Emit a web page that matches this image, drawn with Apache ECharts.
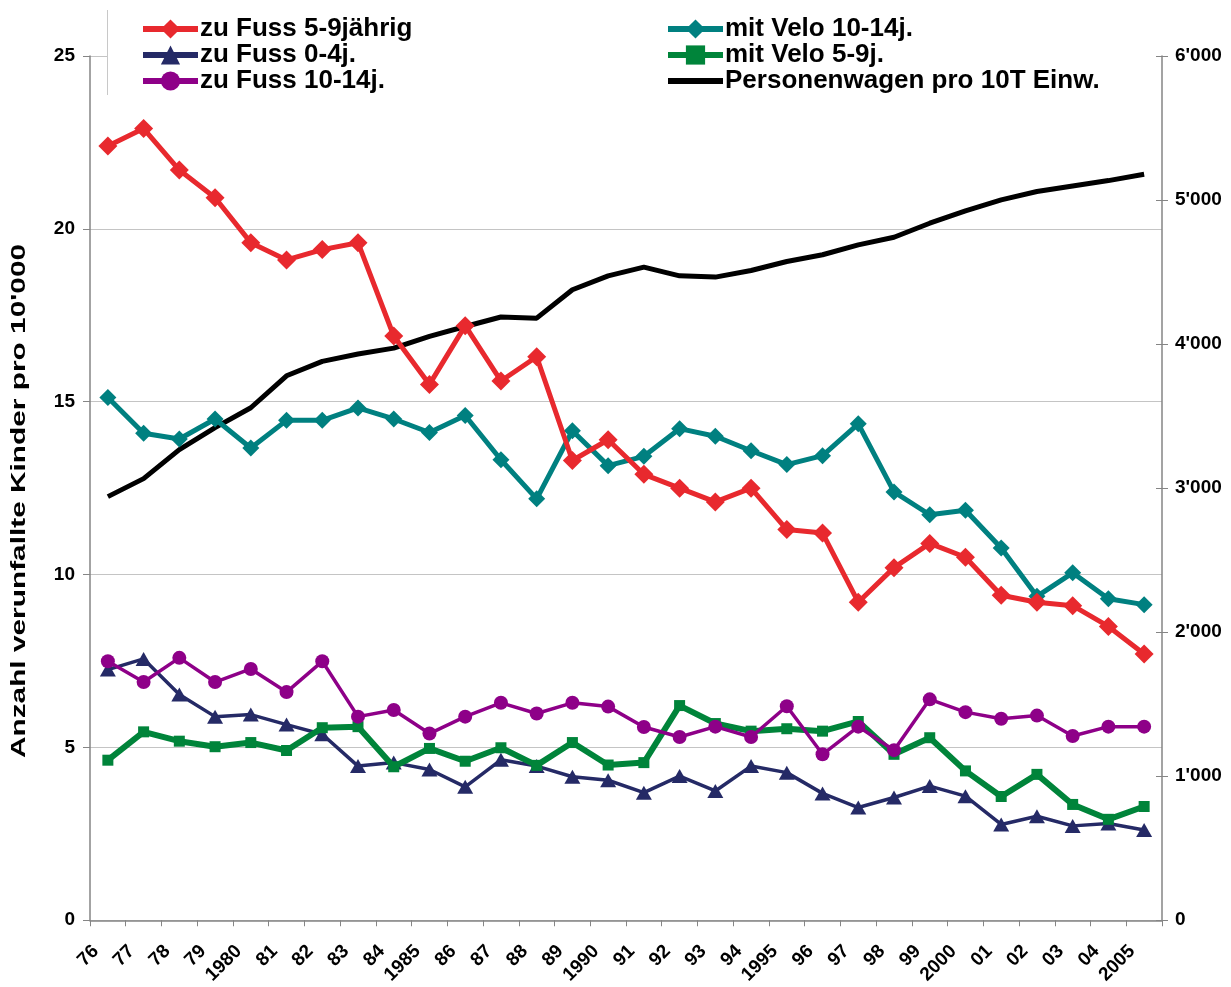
<!DOCTYPE html>
<html>
<head>
<meta charset="utf-8">
<script src="https://cdn.jsdelivr.net/npm/echarts@6/dist/echarts.min.js"></script>
<style>
html,body{margin:0;padding:0;background:#fff;}
#chart{width:1231px;height:987px;}
</style>
</head>
<body>
<div id="chart"></div>
<script>
const years = ['76','77','78','79','1980','81','82','83','84','1985','86','87','88','89','1990','91','92','93','94','1995','96','97','98','99','2000','01','02','03','04','2005'];
const fuss59 = [22.4, 22.9, 21.7, 20.9, 19.6, 19.1, 19.4, 19.6, 16.9, 15.5, 17.2, 15.6, 16.3, 13.3, 13.9, 12.9, 12.5, 12.1, 12.5, 11.3, 11.2, 9.2, 10.2, 10.9, 10.5, 9.4, 9.2, 9.1, 8.5, 7.7];
const fuss04 = [7.25, 7.56, 6.53, 5.89, 5.95, 5.66, 5.38, 4.46, 4.56, 4.36, 3.86, 4.64, 4.46, 4.15, 4.05, 3.69, 4.17, 3.74, 4.46, 4.27, 3.67, 3.26, 3.55, 3.88, 3.59, 2.77, 3.01, 2.73, 2.8, 2.61];
const fuss1014 = [7.49, 6.89, 7.59, 6.89, 7.27, 6.6, 7.49, 5.89, 6.08, 5.4, 5.89, 6.29, 5.98, 6.29, 6.18, 5.59, 5.3, 5.6, 5.3, 6.19, 4.8, 5.6, 4.92, 6.39, 6.02, 5.83, 5.92, 5.33, 5.6, 5.6];
const velo1014 = [15.12, 14.09, 13.92, 14.5, 13.66, 14.46, 14.46, 14.82, 14.5, 14.11, 14.6, 13.32, 12.19, 14.16, 13.15, 13.42, 14.22, 14.0, 13.58, 13.18, 13.44, 14.36, 12.39, 11.73, 11.86, 10.77, 9.37, 10.05, 9.3, 9.13];
const velo59 = [4.63, 5.45, 5.18, 5.02, 5.14, 4.91, 5.57, 5.6, 4.44, 4.97, 4.6, 4.99, 4.48, 5.14, 4.49, 4.56, 6.21, 5.69, 5.47, 5.54, 5.47, 5.75, 4.8, 5.28, 4.32, 3.58, 4.22, 3.35, 2.92, 3.29];
const pw = [2941, 3066, 3267, 3420, 3558, 3780, 3880, 3931, 3972, 4053, 4122, 4188, 4180, 4377, 4474, 4534, 4474, 4465, 4511, 4573, 4620, 4689, 4742, 4839, 4925, 5001, 5059, 5098, 5135, 5179];
const leftTicks = {min: 0, max: 25, interval: 5};
const rightTicks = {min: 0, max: 6000, interval: 1000};
const yTitle = "Anzahl verunfallte Kinder pro 10'000";

const FONT = "'Liberation Sans', Arial, sans-serif";
const names = ['zu Fuss 5-9jährig', 'zu Fuss 0-4j.', 'zu Fuss 10-14j.', 'mit Velo 10-14j.', 'mit Velo 5-9j.', 'Personenwagen pro 10T Einw.'];

const chart = echarts.init(document.getElementById('chart'), null, {renderer: 'canvas'});
const axisGray = '#858585';
const legendCommon = {
  orient: 'vertical', top: 16, padding: 0, itemWidth: 55, itemHeight: 24, itemGap: 0,
  textStyle: {fontFamily: FONT, fontWeight: 'bold', fontSize: 26, color: '#000', lineHeight: 25, padding: [0,0,0,-3]},
  lineStyle: {width: 6},
  selectedMode: false, z: 5
};
function fmtThousands(v) {
  const s = String(Math.round(v));
  return s.replace(/\B(?=(\d{3})+(?!\d))/g, "'");
}
chart.setOption({
  animation: false,
  backgroundColor: '#fff',
  grid: {left: 90, right: 69, top: 56, bottom: 66, containLabel: false},
  graphic: [
    {type: 'rect', shape: {x: 108, y: 8, width: 1048, height: 88}, style: {fill: '#fff'}, z: 1},
    {type: 'line', shape: {x1: 107.5, y1: 10, x2: 107.5, y2: 95}, style: {stroke: '#c8c8c8', lineWidth: 1}, z: 1},
    {type: 'text', x: 19, y: 501, rotation: Math.PI / 2, scaleX: 1.42, z: 5,
     style: {text: yTitle, font: "bold 21px 'Liberation Sans', Arial, sans-serif", fill: '#000', align: 'center', verticalAlign: 'middle'}}
  ],
  legend: [
    Object.assign({}, legendCommon, {left: 140, data: names.slice(0, 3)}),
    Object.assign({}, legendCommon, {left: 665, data: [names[3], names[4], {name: names[5], itemStyle: {opacity: 0}}]})
  ],
  xAxis: {
    type: 'category', data: years, boundaryGap: true,
    axisLine: {lineStyle: {color: axisGray, width: 1.5}},
    axisTick: {show: true, length: 6, lineStyle: {color: axisGray}},
    axisLabel: {interval: 0, rotate: 45, fontFamily: FONT, fontWeight: 'bold', fontSize: 19, color: '#000', margin: 16, padding: [0, 17, 0, 0]},
    splitLine: {show: false}
  },
  yAxis: [
    {
      type: 'value', min: leftTicks.min, max: leftTicks.max, interval: leftTicks.interval, position: 'left',
      axisLine: {show: true, lineStyle: {color: axisGray, width: 1.5}},
      axisTick: {show: true, length: 7, lineStyle: {color: axisGray}},
      axisLabel: {fontFamily: FONT, fontWeight: 'bold', fontSize: 19, color: '#000', margin: 15},
      splitLine: {show: true, lineStyle: {color: '#c4c4c4', width: 1}}
    },
    {
      type: 'value', min: rightTicks.min, max: rightTicks.max, interval: rightTicks.interval, position: 'right',
      axisLine: {show: true, lineStyle: {color: axisGray, width: 1.5}},
      axisTick: {show: true, length: 6, lineStyle: {color: axisGray}},
      axisLabel: {fontFamily: FONT, fontWeight: 'bold', fontSize: 19, color: '#000', margin: 13, formatter: fmtThousands},
      splitLine: {show: false}
    },
    {
      type: 'value', min: rightTicks.min, max: rightTicks.max, interval: rightTicks.interval, position: 'right',
      axisLine: {show: false},
      axisTick: {show: true, inside: true, length: 6, lineStyle: {color: axisGray}},
      axisLabel: {show: false},
      splitLine: {show: false}
    }
  ],
  series: [
    {name: names[5], type: 'line', yAxisIndex: 1, data: pw, showSymbol: false, symbol: 'none',
     lineStyle: {color: '#000', width: 5}, itemStyle: {color: '#000'}, z: 2},
    {name: names[3], type: 'line', data: velo1014, symbol: 'diamond', symbolSize: [17, 17],
     lineStyle: {color: '#008080', width: 5}, itemStyle: {color: '#008080'}, z: 3},
    {name: names[0], type: 'line', data: fuss59, symbol: 'diamond', symbolSize: [19, 19],
     lineStyle: {color: '#E8292E', width: 5}, itemStyle: {color: '#E8292E'}, z: 4},
    {name: names[1], type: 'line', data: fuss04, symbol: 'triangle', symbolSize: [16, 14],
     lineStyle: {color: '#252A66', width: 3.5}, itemStyle: {color: '#252A66'}, z: 5},
    {name: names[4], type: 'line', data: velo59, symbol: 'rect', symbolSize: [11, 11],
     lineStyle: {color: '#00843A', width: 6}, itemStyle: {color: '#00843A'}, z: 6},
    {name: names[2], type: 'line', data: fuss1014, symbol: 'circle', symbolSize: 14,
     lineStyle: {color: '#8E0088', width: 3.5}, itemStyle: {color: '#8E0088'}, z: 7}
  ]
});
</script>
</body>
</html>
